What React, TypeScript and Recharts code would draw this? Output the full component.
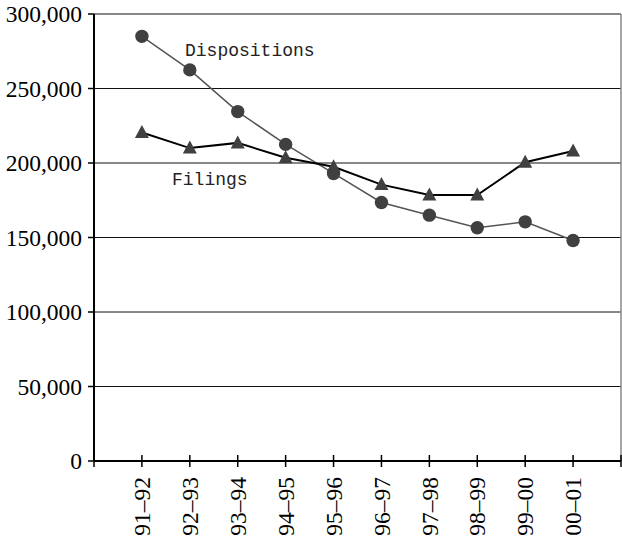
import React from 'react';
import { LineChart, Line, XAxis, YAxis, CartesianGrid, ReferenceLine } from 'recharts';

const periods = ['91–92', '92–93', '93–94', '94–95', '95–96', '96–97', '97–98', '98–99', '99–00', '00–01'];
const dispositions = [285000, 262500, 234500, 212500, 193000, 173500, 165000, 156500, 160500, 148000];
const filings = [220500, 210000, 213500, 203500, 197500, 185500, 178500, 178500, 200500, 208000];
const yTicks = [0, 50000, 100000, 150000, 200000, 250000, 300000];

const data = periods.map((p, i) => ({
  pos: i + 1,
  period: p,
  dispositions: dispositions[i],
  filings: filings[i],
}));
// one empty slot before the first period and after the last
const xTicks = [0, ...periods.map((_, i) => i + 1), periods.length + 1];

const serif = 'Liberation Serif, Times New Roman, serif';
const mono = 'Liberation Mono, Courier New, monospace';

const XTick = (props: any) => {
  const { x, y, payload } = props;
  const label = periods[payload.value - 1];
  return (
    <g>
      <line x1={x} x2={x} y1={y - 6} y2={y + 6} stroke="#000" strokeWidth={1.5} />
      {label && (
        <text
          x={x}
          y={y + 16}
          dy="0.35em"
          transform={`rotate(-90 ${x} ${y + 16})`}
          textAnchor="end"
          fontFamily={serif}
          fontSize={23.5}
          fill="#000"
        >
          {label}
        </text>
      )}
    </g>
  );
};

const YTick = (props: any) => {
  const { x, y, payload } = props;
  return (
    <g>
      <line x1={x - 6} x2={x} y1={y} y2={y} stroke="#000" strokeWidth={1.5} />
      <text x={x - 12} y={y} dy="0.35em" textAnchor="end" fontFamily={serif} fontSize={23.5} fill="#000">
        {payload.value.toLocaleString('en-US')}
      </text>
    </g>
  );
};

const CircleDot = (props: any) => {
  const { cx, cy, index } = props;
  return <circle key={`c${index}`} cx={cx} cy={cy} r={6.7} fill="#404040" />;
};

const TriangleDot = (props: any) => {
  const { cx, cy, index } = props;
  const pts = `${cx},${cy - 7.5} ${cx - 7},${cy + 5.5} ${cx + 7},${cy + 5.5}`;
  return <polygon key={`t${index}`} points={pts} fill="#404040" />;
};

export default function App() {
  return (
    <div style={{ position: 'absolute', left: 0, top: 0, width: 622, height: 544, background: '#fff' }}>
      <LineChart width={622} height={544} data={data} margin={{ top: 14, right: 1, left: 0, bottom: 0 }}>
        <CartesianGrid vertical={false} stroke="#111" />
        <ReferenceLine y={300000} stroke="#888" strokeWidth={1.5} />
        <ReferenceLine x={11} stroke="#888" strokeWidth={1.5} />
        <XAxis
          dataKey="pos"
          type="number"
          domain={[0, 11]}
          ticks={xTicks}
          interval={0}
          height={83}
          tickSize={0}
          tickMargin={0}
          tickLine={false}
          axisLine={{ stroke: '#000', strokeWidth: 2 }}
          tick={<XTick />}
        />
        <YAxis
          domain={[0, 300000]}
          ticks={yTicks}
          interval={0}
          width={94}
          tickSize={0}
          tickMargin={0}
          tickLine={false}
          axisLine={{ stroke: '#000', strokeWidth: 2 }}
          tick={<YTick />}
        />
        <Line
          type="linear"
          dataKey="dispositions"
          stroke="#555"
          strokeWidth={1.5}
          dot={CircleDot}
          activeDot={false}
          isAnimationActive={false}
        />
        <Line
          type="linear"
          dataKey="filings"
          stroke="#000"
          strokeWidth={2}
          dot={TriangleDot}
          activeDot={false}
          isAnimationActive={false}
        />
      </LineChart>
      <svg
        width={622}
        height={544}
        style={{ position: 'absolute', left: 0, top: 0, pointerEvents: 'none' }}
      >
        <text x={185} y={56} fontFamily={mono} fontSize={18} fill="#222">
          Dispositions
        </text>
        <text x={172} y={185} fontFamily={mono} fontSize={18} fill="#222">
          Filings
        </text>
      </svg>
    </div>
  );
}
